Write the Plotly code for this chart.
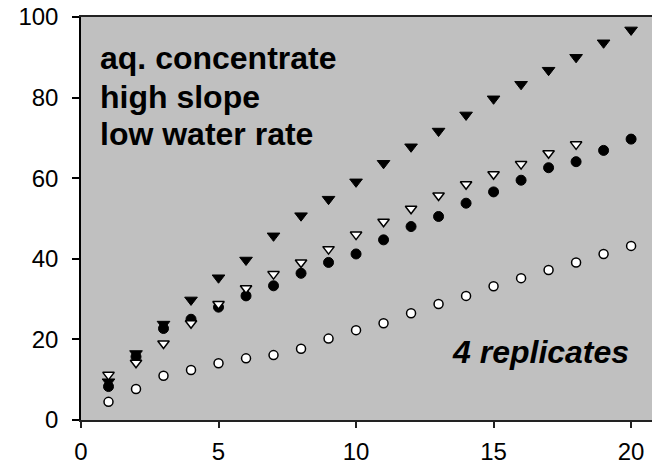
import plotly.graph_objects as go

x_vals = list(range(1, 21))

filled_tri = [9.5, 16.5, 23.8, 29.8, 35.3, 39.7, 45.7, 50.7, 54.8, 59.1,
              63.7, 67.8, 71.7, 75.7, 79.7, 83.3, 86.8, 90.0, 93.6, 96.8]
open_tri_x = list(range(1, 19))
open_tri = [11.2, 14.2, 19.0, 24.0, 28.8, 32.7, 36.2, 39.1, 42.4, 46.0,
            49.2, 52.4, 55.7, 58.5, 61.0, 63.5, 66.2, 68.4]
filled_circ = [8.3, 15.7, 22.7, 25.0, 28.0, 30.8, 33.3, 36.4, 39.1, 41.2,
               44.7, 48.0, 50.5, 53.8, 56.6, 59.5, 62.6, 64.1, 66.9, 69.7]
open_circ = [4.5, 7.7, 11.0, 12.4, 14.1, 15.3, 16.1, 17.7, 20.2, 22.3,
             24.0, 26.5, 28.8, 30.8, 33.2, 35.2, 37.2, 39.1, 41.2, 43.2]

x_ticks = [0, 5, 10, 15, 20]
y_ticks = [0, 20, 40, 60, 80, 100]

title_lines = ["aq. concentrate", "high slope", "low water rate"]
note_text = "4 replicates"

FONT = "Liberation Sans, Arial, sans-serif"

fig = go.Figure()
fig.add_trace(go.Scatter(x=x_vals, y=filled_tri, mode="markers",
                         marker=dict(symbol="triangle-down", size=11, color="black",
                                     line=dict(color="black", width=1))))
fig.add_trace(go.Scatter(x=x_vals, y=filled_circ, mode="markers",
                         marker=dict(symbol="circle", size=10, color="black",
                                     line=dict(color="black", width=1))))
fig.add_trace(go.Scatter(x=open_tri_x, y=open_tri, mode="markers",
                         marker=dict(symbol="triangle-down", size=10, color="white",
                                     line=dict(color="black", width=1.5))))
fig.add_trace(go.Scatter(x=x_vals, y=open_circ, mode="markers",
                         marker=dict(symbol="circle", size=9, color="white",
                                     line=dict(color="black", width=1.5))))

line_y = [89.8, 80.1, 71.0]
for t, yy in zip(title_lines, line_y):
    fig.add_annotation(x=0.6, y=yy, xref="x", yref="y", text="<b>" + t + "</b>",
                       showarrow=False, xanchor="left", yanchor="middle",
                       font=dict(family=FONT, size=32, color="black"))
fig.add_annotation(x=19.98, y=16.8, xref="x", yref="y", text="<b><i>" + note_text + "</i></b>",
                   showarrow=False, xanchor="right", yanchor="middle",
                   font=dict(family=FONT, size=32, color="black"))

fig.update_layout(
    width=652, height=464,
    margin=dict(l=81, r=0, t=17, b=44, pad=0),
    plot_bgcolor="#c0c0c0", paper_bgcolor="white",
    showlegend=False,
    font=dict(family=FONT, size=24, color="black"),
)
fig.update_xaxes(range=[0, 20.76], tickvals=x_ticks, ticks="outside", ticklen=6,
                 tickwidth=1.5, tickcolor="#222", showline=True, linecolor="#222",
                 linewidth=2, mirror=True, showgrid=False, zeroline=False,
                 tickfont=dict(size=24, family=FONT), ticklabelstandoff=3,
                 automargin=False)
fig.update_yaxes(range=[0, 100], tickvals=y_ticks, ticks="outside", ticklen=7,
                 tickwidth=1.5, tickcolor="black", showline=True, linecolor="black",
                 linewidth=1.5, mirror=False, showgrid=False, zeroline=False,
                 tickfont=dict(size=24, family=FONT), ticklabelstandoff=9,
                 automargin=False)

fig.write_html("out.html", config={"displayModeBar": False},
               post_script="document.body.style.margin='0';document.body.style.overflow='hidden';")
